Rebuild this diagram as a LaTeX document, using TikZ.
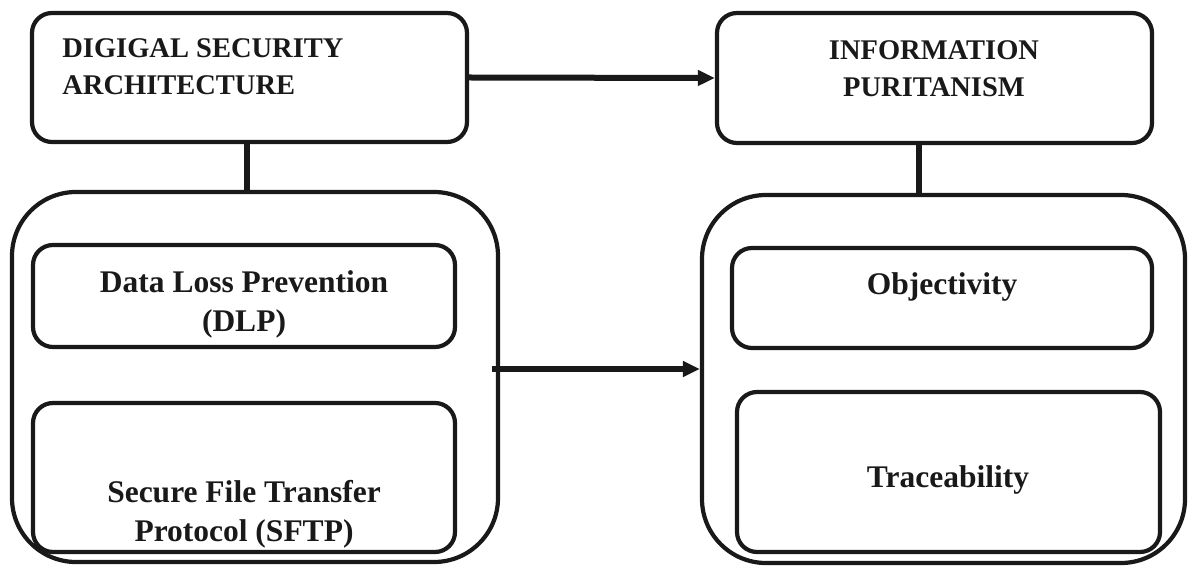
\documentclass[tikz,border=0pt]{standalone}
\usepackage{fontspec}
\setmainfont{Liberation Serif}
\usetikzlibrary{arrows.meta}
\begin{document}
\begin{tikzpicture}[x=0.5pt,y=-0.5pt,
  box/.style={draw=black!90, line width=2.1pt, rounded corners=10pt, inner sep=0, anchor=center},
  cont/.style={box, rounded corners=32pt},
  ttl/.style={font=\fontsize{14.25}{18.5}\selectfont\bfseries, inner sep=0, text=black!90},
  lbl/.style={font=\fontsize{15.75}{19.5}\selectfont\bfseries, inner sep=0, align=center, anchor=north, text=black!90},
  conn/.style={line width=3pt, draw=black!90},
  arr/.style={conn, -{Triangle[length=8.5pt,width=7.5pt]}}]
\useasboundingbox (0,0) rectangle (1188,566);
% boxes
\node[box, minimum width=217.5pt, minimum height=64.5pt] (tl) at (249.5,77.5) {};
\node[box, minimum width=217.5pt, minimum height=65pt] (tr) at (934.5,78) {};
\node[cont, minimum width=243pt, minimum height=185pt] (lc) at (255,377) {};
\node[cont, minimum width=241.5pt, minimum height=184pt] (rc) at (943.5,379) {};
\node[box, minimum width=211pt, minimum height=51pt] (dlp) at (244,296) {};
\node[box, minimum width=211pt, minimum height=74.5pt] (sftp) at (244,477.5) {};
\node[box, minimum width=210pt, minimum height=50pt] (obj) at (942,298) {};
\node[box, minimum width=211.5pt, minimum height=80pt] (trc) at (948.5,472) {};
% texts
\node[ttl, anchor=north west, align=left] (tlt) at (62,38) {DIGIGAL SECURITY\\ARCHITECTURE};
\node[ttl, anchor=north, align=center] (trt) at (934,40) {INFORMATION\\PURITANISM};
\node[lbl] (dlpt) at (244,270) {Data Loss Prevention\\(DLP)};
\node[lbl] (sftpt) at (244,480) {Secure File Transfer\\Protocol (SFTP)};
\node[lbl] (objt) at (942,272) {Objectivity};
\node[lbl] (trct) at (948,465) {Traceability};
% connectors
\coordinate (c1) at (247,0);
\draw[conn] (c1 |- tl.south) -- (c1 |- lc.north);
\coordinate (c2) at (919,0);
\draw[conn] (c2 |- tr.south) -- (c2 |- rc.north);
\draw[arr] (tl.east) -- (tr.west);
\coordinate (m1) at (492,369);
\draw[arr] (m1) -- (m1 -| rc.west);
\end{tikzpicture}
\end{document}
